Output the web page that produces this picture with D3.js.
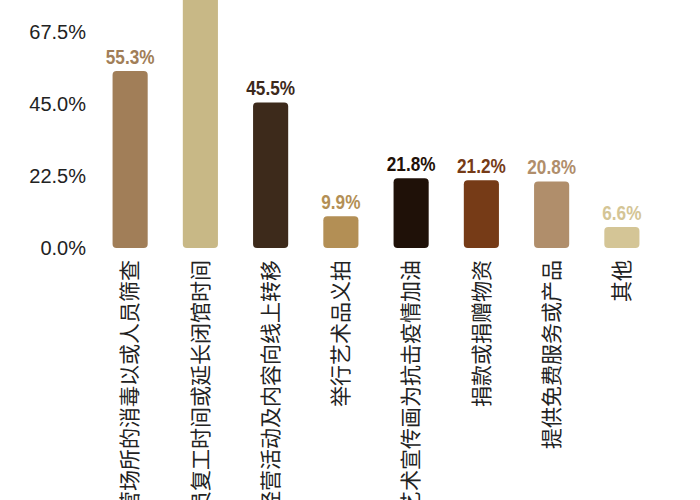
<!DOCTYPE html>
<html>
<head>
<meta charset="utf-8">
<script src="https://cdn.jsdelivr.net/npm/d3@7"></script>
<style>
  body { margin: 0; background: #fff; overflow: hidden; }
  svg { display: block; }
</style>
</head>
<body>
<div id="chart"></div>
<script>
var categories = [
  "加强经营场所的消毒以或人员筛查",
  "推迟人员复工时间或延长闭馆时间",
  "将经营活动及内容向线上转移",
  "举行艺术品义拍",
  "创作艺术宣传画为抗击疫情加油",
  "捐款或捐赠物资",
  "提供免费服务或产品",
  "其他"
];
var values = [55.3, 83.6, 45.5, 9.9, 21.8, 21.2, 20.8, 6.6];
var colors = ["#a17e58", "#c8b886", "#3d2a1b", "#b38f55", "#1f1108", "#763b17", "#b08e6b", "#d4c596"];
var yTicks = [0, 22.5, 45, 67.5, 90];

var width = 700, height = 500;
// zero line at 248, top of the scale runs above the window
var baseY = 248;

var svg = d3.select("#chart").append("svg")
    .attr("width", width)
    .attr("height", height);

var x = d3.scaleBand()
    .domain(categories)
    .range([95, 657])
    .paddingInner(0.5)
    .paddingOuter(0.25);

var y = d3.scaleLinear()
    .domain([0, 90])
    .range([baseY, baseY - 288]);

var color = d3.scaleOrdinal()
    .domain(categories)
    .range(colors);

var data = categories.map(function(c, i) { return {key: c, value: values[i]}; });

// y axis
var yAxis = svg.append("g")
    .attr("transform", "translate(86,0)")
    .call(d3.axisLeft(y).tickValues(yTicks).tickSize(0).tickPadding(0)
      .tickFormat(function(d) { return d3.format(".1f")(d) + "%"; }));
yAxis.select(".domain").remove();
yAxis.selectAll("text")
    .attr("font-family", "'Liberation Sans', Arial, sans-serif")
    .attr("font-size", "20px")
    .attr("fill", "#222");

var bars = svg.selectAll(".bar")
    .data(data)
    .enter()
    .append("g");

bars.append("rect")
    .attr("class", "bar")
    .attr("x", function(d) { return x(d.key); })
    .attr("y", function(d) { return y(d.value); })
    .attr("width", x.bandwidth())
    .attr("height", function(d) { return y(0) - y(d.value); })
    .attr("rx", 4)
    .attr("fill", function(d) { return color(d.key); });

// value labels: squeezed bold to look condensed
bars.append("text")
    .attr("transform", function(d) {
      return "translate(" + (x(d.key) + x.bandwidth() / 2) + "," + (y(d.value) - 7) + ") scale(0.86,1)";
    })
    .attr("text-anchor", "middle")
    .attr("font-family", "'Liberation Sans', Arial, sans-serif")
    .attr("font-weight", "bold")
    .attr("font-size", "20px")
    .attr("fill", function(d) { return color(d.key); })
    .text(function(d) { return d.value.toFixed(1) + "%"; });

// category labels, rotated
var xAxis = svg.append("g")
    .attr("transform", "translate(0," + baseY + ")")
    .call(d3.axisBottom(x).tickSize(0).tickPadding(0));
xAxis.select(".domain").remove();
xAxis.selectAll("text")
    .attr("font-family", "'Noto Sans CJK SC', sans-serif")
    .attr("font-size", "21px")
    .attr("fill", "#222")
    .attr("text-anchor", "end")
    .attr("dy", "0.35em")
    .attr("transform", "translate(0,12) rotate(-90)");
</script>
</body>
</html>
